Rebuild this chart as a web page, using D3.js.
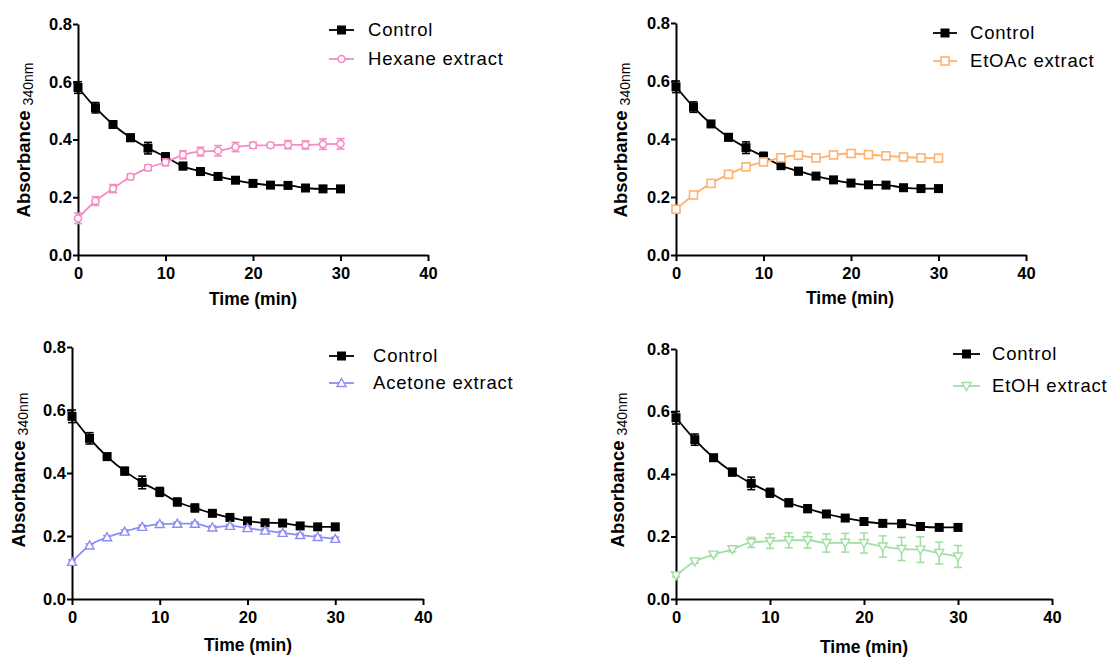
<!DOCTYPE html>
<html><head><meta charset="utf-8">
<script src="https://cdn.jsdelivr.net/npm/d3@7"></script>
<style>body{margin:0;background:#fff;} svg{display:block;font-family:"Liberation Sans",Arial,sans-serif;}</style>
</head><body>
<svg id="c" width="1115" height="657"></svg>
<script>
const time = [0,2,4,6,8,10,12,14,16,18,20,22,24,26,28,30];
const xTicks = [0,10,20,30,40];
const yTicks = [0.0,0.2,0.4,0.6,0.8];
const controlMean = [0.580,0.510,0.452,0.406,0.370,0.340,0.308,0.289,0.272,0.259,0.248,0.242,0.241,0.232,0.229,0.229];
const controlErr  = [0.020,0.018,0.010,0.012,0.020,0.014,0.012,0.012,0.008,0.008,0.008,0.008,0.008,0.006,0.006,0.006];
const hexaneMean = [0.127,0.187,0.230,0.271,0.302,0.321,0.347,0.358,0.361,0.374,0.380,0.380,0.382,0.381,0.384,0.385];
const hexaneErr  = [0.018,0.015,0.014,0.010,0.010,0.012,0.014,0.015,0.018,0.016,0.010,0.008,0.014,0.014,0.018,0.018];
const etoacMean = [0.158,0.207,0.247,0.278,0.304,0.321,0.335,0.344,0.335,0.345,0.350,0.346,0.342,0.338,0.335,0.334];
const etoacErr  = [0.008,0.008,0.006,0.006,0.006,0.006,0.006,0.006,0.006,0.006,0.008,0.008,0.006,0.006,0.006,0.006];
const acetoneMean = [0.118,0.170,0.196,0.214,0.229,0.238,0.239,0.239,0.227,0.232,0.225,0.217,0.210,0.203,0.197,0.191];
const acetoneErr  = [0.006,0.005,0.005,0.005,0.005,0.005,0.005,0.005,0.005,0.005,0.005,0.005,0.005,0.005,0.005,0.005];
const etohMean = [0.075,0.120,0.142,0.159,0.181,0.185,0.188,0.188,0.179,0.180,0.179,0.168,0.160,0.158,0.147,0.136];
const etohErr  = [0.005,0.005,0.005,0.008,0.016,0.023,0.024,0.025,0.029,0.030,0.032,0.034,0.037,0.041,0.035,0.035];

const panels = [
  {x0:78,x1:428,yTop:24,yBot:255,name:"Hexane extract",mean:hexaneMean,err:hexaneErr,color:"#f58cc2",sym:"circle",
   leg:{lx0:329,lx1:354,y1:30,y2:59,tx:368},xt:{x:253,y:305},yt:{x:24,y:140}},
  {x0:676,x1:1026,yTop:23,yBot:255,name:"EtOAc extract",mean:etoacMean,err:etoacErr,color:"#fdb36e",sym:"square",
   leg:{lx0:933,lx1:957,y1:33,y2:61,tx:970},xt:{x:850,y:304},yt:{x:621,y:140}},
  {x0:72,x1:423,yTop:347,yBot:599,name:"Acetone extract",mean:acetoneMean,err:acetoneErr,color:"#8e8cf4",sym:"triangle",
   leg:{lx0:329,lx1:354,y1:356,y2:383,tx:373},xt:{x:248,y:651},yt:{x:19,y:470}},
  {x0:676,x1:1052,yTop:349,yBot:599,name:"EtOH extract",mean:etohMean,err:etohErr,color:"#a3dea3",sym:"triangleDown",
   leg:{lx0:953,lx1:980,y1:354,y2:386,tx:992},xt:{x:864,y:653},yt:{x:618,y:470}}
];

const svg = d3.select("#c");

function marker(g, sym, color, x, y){
  if(sym==="filled"){
    g.append("rect").attr("x",x-4.5).attr("y",y-4.5).attr("width",9).attr("height",9).attr("fill","#000");
  } else if(sym==="circle"){
    g.append("circle").attr("cx",x).attr("cy",y).attr("r",3.5).attr("fill","#fff").attr("stroke",color).attr("stroke-width",1.6);
  } else if(sym==="square"){
    g.append("rect").attr("x",x-4).attr("y",y-4).attr("width",8).attr("height",8).attr("fill","#fff").attr("stroke",color).attr("stroke-width",1.6);
  } else if(sym==="triangle"){
    g.append("path").attr("d",`M${x},${y-4.5}L${x+4.5},${y+3.5}L${x-4.5},${y+3.5}Z`).attr("fill","#fff").attr("stroke",color).attr("stroke-width",1.4);
  } else if(sym==="triangleDown"){
    g.append("path").attr("d",`M${x},${y+4.5}L${x+4.5},${y-3.5}L${x-4.5},${y-3.5}Z`).attr("fill","#fff").attr("stroke",color).attr("stroke-width",1.4);
  }
}

function series(g, xs, ys, mean, err, color, sym){
  const line = d3.line().x((d,i)=>xs(time[i])).y(d=>ys(d)).curve(d3.curveMonotoneX);
  g.append("path").attr("d",line(mean)).attr("fill","none").attr("stroke",color).attr("stroke-width",1.8);
  mean.forEach((m,i)=>{
    const x = xs(time[i]);
    const y1 = ys(m+err[i]), y2 = ys(m-err[i]);
    g.append("line").attr("x1",x).attr("x2",x).attr("y1",y1).attr("y2",y2).attr("stroke",color).attr("stroke-width",1.6);
    [y1,y2].forEach(yy=>g.append("line").attr("x1",x-4).attr("x2",x+4).attr("y1",yy).attr("y2",yy).attr("stroke",color).attr("stroke-width",1.6));
  });
  mean.forEach((m,i)=>marker(g, sym, color, xs(time[i]), ys(m)));
}

panels.forEach(p=>{
  const g = svg.append("g");
  const xs = d3.scaleLinear().domain([0,40]).range([p.x0,p.x1]);
  const ys = d3.scaleLinear().domain([0,0.8]).range([p.yBot,p.yTop]);

  const xa = g.append("g").attr("transform",`translate(0,${p.yBot})`)
    .call(d3.axisBottom(xs).tickValues(xTicks).tickSize(6).tickSizeOuter(0).tickFormat(d3.format("d")));
  const ya = g.append("g").attr("transform",`translate(${p.x0},0)`)
    .call(d3.axisLeft(ys).tickValues(yTicks).tickSize(5).tickSizeOuter(0).tickFormat(d3.format(".1f")));
  [xa,ya].forEach(a=>{
    a.select(".domain").attr("stroke","#000").attr("stroke-width",2);
    a.selectAll(".tick line").attr("stroke","#000").attr("stroke-width",2);
    a.selectAll(".tick text").attr("fill","#000").style("font-size","16.5px").style("font-weight","bold");
  });
  xa.selectAll(".tick text").attr("dy","0.9em");
  ya.selectAll(".tick text").attr("x",-6);

  // titles
  g.append("text").attr("x",p.xt.x).attr("y",p.xt.y).attr("text-anchor","middle")
    .style("font-size","17.5px").style("font-weight","bold").text("Time (min)");
  const yt = g.append("text").attr("transform",`translate(${p.yt.x},${p.yt.y}) rotate(-90)`)
    .attr("text-anchor","middle").attr("dy","0.35em");
  yt.append("tspan").style("font-size","18.5px").style("font-weight","bold").text("Absorbance ");
  yt.append("tspan").style("font-size","14px").attr("dy","3").text("340nm");

  // data
  series(g, xs, ys, controlMean, controlErr, "#000", "filled");
  series(g, xs, ys, p.mean, p.err, p.color, p.sym);

  // legend
  const L = p.leg;
  const mid = (L.lx0+L.lx1)/2;
  g.append("line").attr("x1",L.lx0).attr("x2",L.lx1).attr("y1",L.y1).attr("y2",L.y1).attr("stroke","#000").attr("stroke-width",1.8);
  marker(g,"filled","#000",mid,L.y1);
  g.append("line").attr("x1",L.lx0).attr("x2",L.lx1).attr("y1",L.y2).attr("y2",L.y2).attr("stroke",p.color).attr("stroke-width",1.8);
  marker(g,p.sym,p.color,mid,L.y2);
  [["Control",L.y1],[p.name,L.y2]].forEach(([t,y])=>
    g.append("text").attr("x",L.tx).attr("y",y).attr("dy","0.35em").style("font-size","18.5px")
      .style("letter-spacing","0.8px").text(t));
});
</script>
</body></html>
